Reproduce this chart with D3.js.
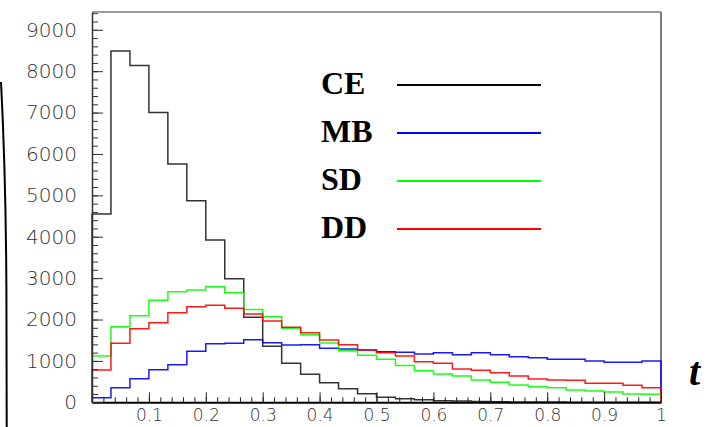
<!DOCTYPE html>
<html>
<head>
<meta charset="utf-8">
<script src="https://cdn.jsdelivr.net/npm/d3@7"></script>
<style>
  html, body { margin: 0; padding: 0; background: #fff; }
  svg { display: block; }
</style>
</head>
<body>
<svg id="chart" width="710" height="427"></svg>
<script>
// ---- data (30 bins over t in [0,1]) ----
const binEdgesMin = 0;
const binEdgesMax = 1;
const seriesNames = ["CE", "MB", "SD", "DD"];
const seriesColors = ["#000000", "#0000ff", "#00ff00", "#ff0000"];
const CE = [4550, 8490, 8140, 7000, 5756, 4870, 3920, 2986, 2053, 1355, 942, 680, 470, 325, 205, 125, 88, 63, 40, 32, 20, 15, 10, 8, 5, 4, 3, 2, 1, 1];
const MB = [112, 353, 571, 787, 908, 1232, 1416, 1425, 1512, 1440, 1384, 1391, 1304, 1287, 1263, 1222, 1208, 1167, 1198, 1150, 1198, 1150, 1101, 1077, 1039, 1039, 998, 966, 966, 998];
const SD = [1120, 1826, 2092, 2464, 2671, 2712, 2792, 2647, 2240, 2068, 1787, 1635, 1432, 1243, 1138, 1042, 890, 763, 684, 635, 539, 483, 418, 377, 353, 297, 273, 249, 200, 193];
const DD = [780, 1425, 1778, 1923, 2164, 2309, 2343, 2271, 2133, 1964, 1811, 1681, 1505, 1391, 1263, 1198, 1118, 981, 942, 804, 773, 715, 635, 563, 539, 531, 459, 459, 411, 353];
const xTickLabels = ["0.1", "0.2", "0.3", "0.4", "0.5", "0.6", "0.7", "0.8", "0.9", "1"];
const xTickValues = [0.1, 0.2, 0.3, 0.4, 0.5, 0.6, 0.7, 0.8, 0.9, 1];
const yTickValues = [0, 1000, 2000, 3000, 4000, 5000, 6000, 7000, 8000, 9000];
const yMax = 9430;
const axisTitle = "t";

const series = [CE, MB, SD, DD];

// ---- layout ----
const svg = d3.select("#chart");
const L = 92, R = 661, T = 12, B = 402.3;
const x = d3.scaleLinear().domain([binEdgesMin, binEdgesMax]).range([L, R]);
const y = d3.scaleLinear().domain([0, yMax]).range([B, T]);

// decorative remnant of cropped y-axis title (big parenthesis)
svg.append("path")
  .attr("d", "M1,82 C4,140 6,200 6.4,290 L6.7,427")
  .attr("fill", "none").attr("stroke", "#000").attr("stroke-width", 2);

// frame top/right
svg.append("line").attr("x1", L).attr("x2", R).attr("y1", T).attr("y2", T)
  .attr("stroke", "#7a7a7a").attr("stroke-width", 1.5);
svg.append("line").attr("x1", R).attr("x2", R).attr("y1", T).attr("y2", B)
  .attr("stroke", "#7a7a7a").attr("stroke-width", 2);

// histograms
const nb = CE.length;
const bw = (binEdgesMax - binEdgesMin) / nb;
function histPath(vals) {
  const p = d3.path();
  p.moveTo(x(binEdgesMin), y(0));
  vals.forEach((v, i) => {
    p.lineTo(x(binEdgesMin + i * bw), y(v));
    p.lineTo(x(binEdgesMin + (i + 1) * bw), y(v));
  });
  p.lineTo(x(binEdgesMax), y(0));
  return p.toString();
}
series.forEach((vals, k) => {
  svg.append("path")
    .attr("d", histPath(vals))
    .attr("fill", "none")
    .attr("stroke", seriesColors[k])
    .attr("stroke-width", 1.5)
    .attr("stroke-opacity", k === 0 ? 0.8 : 0.9);
});

// axes
const fontAxis = "'DejaVu Sans', sans-serif";
// x minor
const xMinor = d3.range(0, 1.0001, 0.02);
svg.append("g").attr("transform", `translate(0,${B})`)
  .call(d3.axisBottom(x).tickValues(xMinor).tickSize(-5).tickFormat(""))
  .call(g => g.select(".domain").remove())
  .call(g => g.selectAll("line").attr("stroke", "#222"));
// x major
const gx = svg.append("g").attr("transform", `translate(0,${B})`)
  .call(d3.axisBottom(x).tickValues(xTickValues).tickSizeInner(-10).tickSizeOuter(0).tickPadding(7)
    .tickFormat((d, i) => xTickLabels[i]));
gx.select(".domain").attr("stroke", "#000").attr("stroke-width", 2);
gx.selectAll("line").attr("stroke", "#222");
gx.selectAll("text").attr("font-family", fontAxis).attr("font-size", 17)
  .attr("font-weight", 200).attr("fill", "#333");

// y minor
const yMinor = d3.range(0, yMax, 200);
svg.append("g").attr("transform", `translate(${L},0)`)
  .call(d3.axisLeft(y).tickValues(yMinor).tickSize(-6).tickFormat(""))
  .call(g => g.select(".domain").remove())
  .call(g => g.selectAll("line").attr("stroke", "#333"));
// y major
const gy = svg.append("g").attr("transform", `translate(${L},0)`)
  .call(d3.axisLeft(y).tickValues(yTickValues).tickSizeInner(-11).tickSizeOuter(0).tickPadding(15)
    .tickFormat(d3.format("d")));
gy.select(".domain").attr("stroke", "#333").attr("stroke-width", 1.5);
gy.selectAll("line").attr("stroke", "#333");
gy.selectAll("text").attr("font-family", fontAxis).attr("font-size", 20)
  .attr("font-weight", 200).attr("fill", "#333");

// axis title
svg.append("text").attr("x", 689).attr("y", 385)
  .attr("font-family", "'Liberation Serif', serif").attr("font-style", "italic")
  .attr("font-weight", "bold")
  .attr("font-size", 40).attr("fill", "#000").text(axisTitle);

// legend
const legend = svg.append("g");
seriesNames.forEach((name, k) => {
  const cy = 85 + k * 48;
  legend.append("text").attr("x", 321).attr("y", cy + 9)
    .attr("font-family", "'Liberation Serif', serif").attr("font-weight", "bold")
    .attr("font-size", 32).attr("fill", "#000").text(name);
  legend.append("line").attr("x1", 397).attr("x2", 541).attr("y1", cy).attr("y2", cy)
    .attr("stroke", seriesColors[k]).attr("stroke-width", 2);
});
</script>
</body>
</html>
